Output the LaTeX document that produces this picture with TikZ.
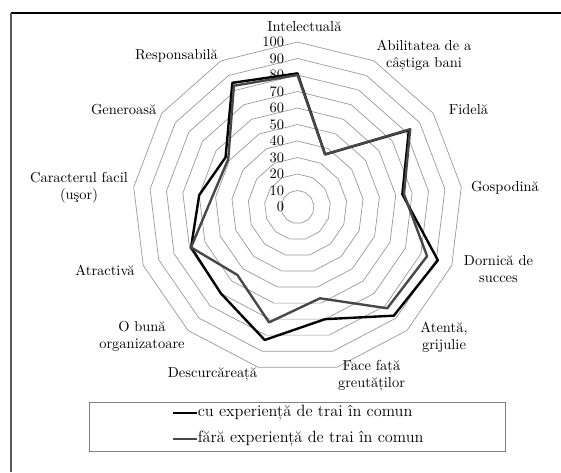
\documentclass[tikz,border=0pt]{standalone}
\usepackage{tikz}
\usetikzlibrary{positioning}

\begin{document}
\begin{tikzpicture}[
  ring/.style={draw=black!40,line width=0.5pt},
  tick/.style={font=\fontsize{10.3}{12.1}\selectfont,anchor=east,inner sep=1pt},
  lbl/.style={font=\fontsize{10.3}{12.1}\selectfont,align=center,inner sep=0pt},
  legtxt/.style={font=\fontsize{11.6}{13}\selectfont,inner sep=0pt},
  cuexp/.style={draw=black,line width=1.7pt,line join=round},
  faraexp/.style={draw=black!72,line width=1.7pt,line join=round}]
\useasboundingbox (-7.4375,-6.625) rectangle (6.5875,5.175);
% frame
\draw[black,line width=1pt] (-7.1625,4.85) -- (6.5875,4.85);
\draw[black!65,line width=1.5pt] (-7.1625,4.85) -- (-7.1625,-6.625);

% grid, 13 axes
\foreach \v in {10,20,...,100}
  \draw[ring] plot[samples at={0,...,12}] ({90-\x*360/13}:{\v*0.04125}) -- cycle;
\foreach \v in {0,10,...,100}
  \node[tick] (t\v) at (-0.29,{\v*0.04125}) {\v};

% axis labels
\node[lbl] (intel) at (0.175,4.5125) {Intelectuală};
\node[lbl] (abil) at (3.1625,3.775) {Abilitatea de a\\câștiga bani};
\node[lbl] (fid) at (4.275,2.425) {Fidelă};
\node[lbl] (gosp) at (5.1875,0.475) {Gospodină};
\node[lbl] (dorn) at (5.025,-1.5625) {Dornică de\\succes};
\node[lbl] (atent) at (3.6625,-3.2625) {Atentă,\\grijulie};
\node[lbl] (face) at (1.85,-4.225) {Face față\\greutăților};
\node[lbl] (desc) at (-2.125,-4.2) {Descurcăreață};
\node[lbl] (org) at (-3.8875,-3.225) {O bună\\organizatoare};
\node[lbl] (atr) at (-4.8125,-1.575) {Atractivă};
\node[lbl] (car) at (-5.4625,0.475) {Caracterul facil\\(uşor)};
\node[lbl] (gen) at (-4.345,2.425) {Generoasă};
\node[lbl] (resp) at (-3.025,3.775) {Responsabilă};

% data
\draw[cuexp] (90:3.341) -- (62.31:1.485) -- (34.62:3.383) -- (6.92:2.64) -- (-20.77:3.754) -- (-48.46:3.63) -- (-76.15:2.8875) -- (-103.85:3.424) -- (-131.54:2.8875) -- (-159.23:2.846) -- (173.08:2.475) -- (145.38:2.186) -- (117.69:3.506) -- cycle;
\draw[faraexp] (90:3.3) -- (62.31:1.485) -- (34.62:3.424) -- (6.92:2.681) -- (-20.77:3.465) -- (-48.46:3.383) -- (-76.15:2.351) -- (-103.85:2.97) -- (-131.54:2.269) -- (-159.23:2.846) -- (173.08:2.145) -- (145.38:2.104) -- (117.69:3.424) -- cycle;

% legend
\draw[black!50,line width=0.6pt] (-5.205,-6.1) rectangle (5.205,-4.8925);
\coordinate (k1) at (-3.1,-5.1575);
\coordinate (k2) at (-3.1,-5.8075);
\node[legtxt,anchor=west,right=0.6cm of k1] (leg1) {cu experiență de trai în comun};
\node[legtxt,anchor=west,right=0.6cm of k2] (leg2) {fără experiență de trai în comun};
\draw[cuexp,line width=1.4pt] (k1) -- (leg1.west);
\draw[faraexp,line width=1.4pt] (k2) -- (leg2.west);

\end{tikzpicture}
\end{document}
